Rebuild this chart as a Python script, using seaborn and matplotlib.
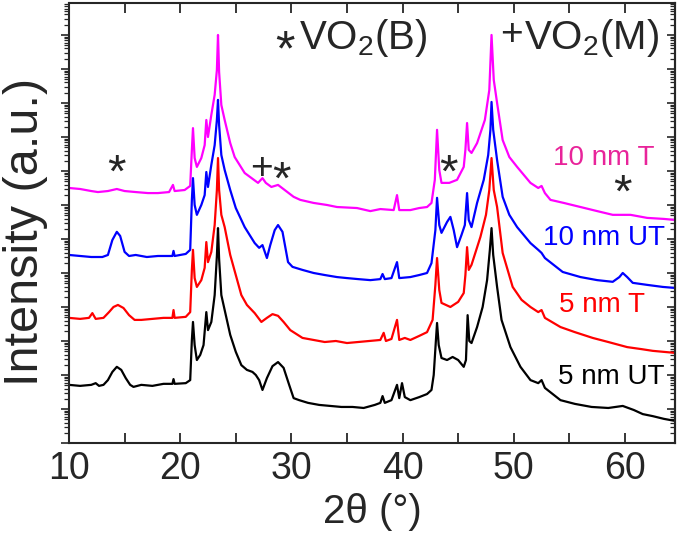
import numpy as np
import pandas as pd
import matplotlib
matplotlib.use("Agg")
import matplotlib.pyplot as plt
from matplotlib.ticker import MultipleLocator, LogLocator, NullFormatter
import seaborn as sns

# 2theta positions and log10(intensity), one pair of lists per sample
bk_x = [10.0, 11.0, 12.0, 12.4, 12.7, 13.1, 13.5, 13.9, 14.3, 14.7, 15.1, 15.5, 15.8, 16.5, 17.5, 18.5,
        19.3, 19.4, 19.5, 20.5, 20.9, 21.05, 21.15, 21.3, 21.5, 21.8, 22.1, 22.35, 22.5, 22.8, 23.1, 23.3,
        23.4, 23.5, 23.7, 24.0, 24.5, 25.0, 25.5, 26.0, 26.5, 26.8, 27.1, 27.4, 27.8, 28.3, 28.8, 29.3,
        29.8, 30.2, 30.7, 31.5, 32.5, 33.5, 34.5, 35.5, 36.5, 37.5, 38.0, 38.2, 38.4, 39.0, 39.5, 39.7,
        39.95, 40.2, 40.7, 41.5, 42.2, 42.6, 42.8, 43.0, 43.1, 43.25, 43.5, 44.0, 44.5, 45.0, 45.5, 45.7,
        45.85, 46.0, 46.2, 46.7, 47.2, 47.6, 47.85, 48.0, 48.15, 48.5, 48.9, 49.7, 50.6, 51.5, 52.2, 52.5,
        52.8, 54.2, 55.5, 57.0, 58.5, 59.8, 60.8, 61.6, 62.5, 63.5, 64.5]
bk_y = [1.71, 1.68, 1.71, 1.76, 1.68, 1.71, 1.85, 2.09, 2.24, 2.15, 1.91, 1.71, 1.65, 1.71, 1.68, 1.74,
        1.74, 1.88, 1.74, 1.76, 1.85, 3.03, 3.56, 2.88, 2.44, 2.59, 2.88, 3.85, 3.32, 3.56, 4.35, 5.5,
        6.32, 5.41, 4.35, 3.91, 3.18, 2.68, 2.29, 2.15, 2.09, 2.0, 1.85, 1.56, 1.91, 2.26, 2.38, 2.21,
        1.71, 1.32, 1.26, 1.18, 1.12, 1.09, 1.06, 1.06, 1.03, 1.12, 1.18, 1.38, 1.18, 1.26, 1.71, 1.32,
        1.76, 1.35, 1.26, 1.35, 1.44, 1.56, 2.0, 3.03, 3.53, 2.88, 2.5, 2.44, 2.53, 2.44, 2.24, 2.44,
        3.76, 3.0, 2.94, 3.41, 4.0, 4.79, 5.68, 6.32, 5.53, 4.59, 3.62, 2.82, 2.24, 1.85, 1.76, 1.85,
        1.62, 1.26, 1.15, 1.06, 1.03, 1.09, 0.97, 0.85, 0.79, 0.71, 0.65]

rd_x = [10.0, 11.0, 11.8, 12.1, 12.4, 13.1, 13.6, 14.0, 14.4, 14.9, 15.4, 15.9, 16.5, 17.5, 18.5, 19.3,
        19.4, 19.5, 20.5, 20.9, 21.05, 21.15, 21.3, 21.5, 21.9, 22.2, 22.35, 22.5, 22.8, 23.1, 23.3, 23.4,
        23.5, 23.7, 24.0, 24.5, 25.0, 25.5, 26.0, 26.7, 27.3, 27.8, 28.3, 28.8, 29.3, 29.9, 31.0, 32.0,
        33.0, 34.0, 35.0, 36.0, 37.0, 38.0, 38.3, 38.5, 39.0, 39.5, 39.7, 40.2, 40.7, 41.5, 42.2, 42.7,
        42.95, 43.1, 43.3, 43.5, 44.3, 45.0, 45.5, 45.65, 45.8, 45.95, 46.2, 47.0, 47.5, 47.8, 48.0, 48.2,
        48.5, 49.0, 49.9, 50.7, 51.5, 52.2, 52.5, 52.8, 54.2, 55.5, 57.1, 58.5, 60.2, 61.5, 62.5, 63.5, 64.5]
rd_y = [3.68, 3.65, 3.68, 3.82, 3.65, 3.68, 3.85, 4.0, 4.06, 3.97, 3.76, 3.62, 3.62, 3.65, 3.68, 3.68,
        3.91, 3.68, 3.71, 3.85, 5.09, 5.68, 4.85, 4.59, 4.79, 5.15, 5.91, 5.32, 5.62, 6.41, 7.44, 8.38,
        7.44, 6.71, 6.35, 5.53, 4.94, 4.35, 4.06, 3.82, 3.56, 3.68, 3.79, 3.74, 3.56, 3.32, 3.09, 3.03,
        2.97, 3.0, 2.94, 2.97, 3.0, 3.03, 3.24, 3.0, 3.06, 3.62, 3.03, 3.09, 3.03, 3.15, 3.26, 3.62,
        4.65, 5.44, 4.5, 4.12, 4.0, 4.15, 4.41, 4.94, 5.76, 5.09, 5.24, 6.06, 6.71, 7.44, 8.38, 7.44,
        6.94, 5.59, 4.59, 4.21, 4.0, 3.85, 3.91, 3.68, 3.41, 3.26, 3.09, 2.97, 2.82, 2.76, 2.71, 2.68, 2.65]

bl_x = [10.0, 11.0, 12.0, 13.0, 13.5, 13.9, 14.3, 14.6, 15.0, 15.4, 16.0, 17.0, 18.0, 19.3, 19.4, 19.5,
        20.5, 20.9, 21.05, 21.15, 21.3, 21.5, 21.9, 22.2, 22.35, 22.5, 22.8, 23.1, 23.3, 23.4, 23.5, 23.7,
        24.0, 24.5, 25.0, 25.8, 26.7, 27.1, 27.4, 27.8, 28.1, 28.5, 28.8, 29.2, 29.7, 30.1, 31.0, 32.0,
        33.0, 34.1, 35.0, 36.0, 37.1, 38.0, 38.2, 38.4, 39.0, 39.5, 39.7, 40.7, 41.5, 42.2, 42.6, 42.95,
        43.1, 43.3, 43.5, 44.0, 44.3, 44.6, 44.9, 45.3, 45.6, 45.8, 45.95, 46.2, 46.7, 47.3, 47.7, 47.9,
        48.0, 48.15, 48.5, 49.0, 49.6, 50.3, 51.5, 52.2, 52.5, 52.8, 54.4, 56.0, 57.5, 58.9, 59.5, 59.8,
        60.2, 60.7, 62.0, 63.4, 64.5]
bl_y = [5.53, 5.5, 5.47, 5.47, 5.53, 5.97, 6.21, 6.09, 5.62, 5.5, 5.53, 5.47, 5.5, 5.5, 5.65, 5.5,
        5.56, 5.68, 7.15, 7.79, 7.0, 6.71, 7.0, 7.29, 7.97, 7.53, 8.18, 8.76, 9.5, 10.09, 9.35, 8.47,
        8.03, 7.44, 6.91, 6.35, 5.88, 5.74, 5.82, 5.44, 5.82, 6.26, 6.41, 6.21, 5.32, 5.18, 5.09, 5.0,
        4.94, 4.88, 4.85, 4.82, 4.79, 4.82, 4.97, 4.82, 4.85, 5.32, 4.85, 4.88, 4.94, 5.0, 5.29, 6.26,
        7.21, 6.41, 6.18, 6.5, 6.65, 6.26, 5.76, 6.12, 6.41, 7.35, 6.56, 6.35, 7.06, 7.74, 8.47, 9.21,
        10.03, 9.21, 8.32, 7.24, 6.71, 6.35, 5.88, 5.68, 5.59, 5.44, 5.03, 4.88, 4.79, 4.74, 4.88, 5.0,
        4.88, 4.71, 4.65, 4.59, 4.56]

mg_x = [10.0, 11.0, 12.0, 12.6, 13.5, 14.3, 15.0, 16.0, 17.1, 18.0, 19.0, 19.35, 19.5, 20.4, 20.9, 21.05,
        21.15, 21.3, 21.5, 21.9, 22.2, 22.35, 22.5, 22.8, 23.1, 23.3, 23.4, 23.5, 23.7, 24.0, 24.5, 24.9,
        25.8, 27.0, 27.4, 27.7, 28.2, 28.8, 29.4, 30.2, 30.8, 32.0, 33.2, 34.1, 35.9, 37.1, 38.0, 39.2,
        39.5, 39.7, 40.7, 41.5, 42.2, 42.6, 42.9, 43.1, 43.3, 43.5, 44.2, 44.9, 45.5, 45.65, 45.8, 45.95,
        46.2, 46.7, 47.4, 47.8, 48.0, 48.2, 48.5, 49.0, 49.6, 50.3, 51.5, 52.2, 52.5, 52.8, 53.3, 54.5,
        56.0, 57.5, 58.9, 60.5, 62.0, 63.5, 64.5]
mg_y = [7.5, 7.47, 7.41, 7.38, 7.41, 7.47, 7.41, 7.38, 7.35, 7.35, 7.38, 7.59, 7.41, 7.44, 7.56, 8.62,
        9.26, 8.38, 8.12, 8.38, 8.76, 9.5, 9.0, 9.65, 10.24, 10.97, 12.0, 10.91, 9.94, 9.5, 8.82, 8.41,
        7.94, 7.65, 7.79, 7.65, 7.53, 7.59, 7.44, 7.24, 7.15, 7.06, 7.0, 6.94, 6.91, 6.82, 6.88, 6.85,
        7.29, 6.85, 6.85, 6.91, 6.94, 7.06, 7.74, 9.21, 8.03, 7.65, 7.65, 7.74, 8.12, 8.62, 9.41, 8.62,
        8.53, 8.82, 9.5, 10.38, 12.0, 10.68, 10.0, 8.91, 8.41, 8.12, 7.65, 7.5, 7.56, 7.35, 7.15, 7.06,
        6.94, 6.82, 6.71, 6.71, 6.62, 6.59, 6.56]

samples = ["10 nm T", "10 nm UT", "5 nm T", "5 nm UT"]
line_colors = ["#ff00ff", "#0000ff", "#ff0000", "#000000"]
label_colors = ["#e8249a", "#0000ff", "#ff0000", "#000000"]

frames = []
for name, xs, ys in zip(samples, [mg_x, bl_x, rd_x, bk_x], [mg_y, bl_y, rd_y, bk_y]):
    frames.append(pd.DataFrame({"two_theta": xs, "intensity": 10 ** np.array(ys), "sample": name}))
df = pd.concat(frames, ignore_index=True)

sns.set_style("ticks")
plt.rcParams["font.family"] = ["Liberation Sans", "DejaVu Sans"]
plt.rcParams["mathtext.default"] = "regular"

fig = plt.figure(figsize=(6.85, 5.53), dpi=100)
ax = fig.add_axes([69 / 685, 110 / 553, 606 / 685, 440 / 553])

for name, col in zip(samples, line_colors):
    sns.lineplot(data=df[df["sample"] == name], x="two_theta", y="intensity",
                 color=col, lw=1.6, ax=ax, legend=False)

ax.set_yscale("log")
ax.set_xlim(10, 64.5)
ax.set_ylim(1, 10 ** 12.94)

ax.xaxis.set_major_locator(MultipleLocator(10))
ax.xaxis.set_minor_locator(MultipleLocator(5))
ax.yaxis.set_major_locator(LogLocator(base=10, numticks=30))
ax.yaxis.set_minor_locator(LogLocator(base=10, subs=np.arange(2, 10), numticks=30))
ax.yaxis.set_major_formatter(NullFormatter())
ax.yaxis.set_minor_formatter(NullFormatter())

ax.tick_params(axis="x", which="both", direction="in", top=True, length=7, width=1.3,
               labelsize=27, pad=6)
ax.tick_params(axis="y", which="major", direction="out", left=True, right=False, length=6, width=1.2)
ax.tick_params(axis="y", which="minor", direction="out", left=True, right=False, length=3.5, width=0.9)
for s in ax.spines.values():
    s.set_linewidth(1.5)

# inward ticks on the right side
ax_r = ax.secondary_yaxis("right")
ax_r.yaxis.set_major_locator(LogLocator(base=10, numticks=30))
ax_r.yaxis.set_minor_locator(LogLocator(base=10, subs=np.arange(2, 10), numticks=30))
ax_r.yaxis.set_major_formatter(NullFormatter())
ax_r.yaxis.set_minor_formatter(NullFormatter())
ax_r.tick_params(which="major", direction="in", length=6, width=1.2)
ax_r.tick_params(which="minor", direction="in", length=3.5, width=0.9)
ax_r.spines["right"].set_linewidth(1.5)

ax.set_xlabel("2θ (°)", fontsize=29, labelpad=4)
ax.set_ylabel("Intensity (a.u.)", fontsize=35)
ax.yaxis.set_label_coords(-0.035, 0.48)

# sample labels
label_pos = [(62.7, 8.38), (63.6, 6.03), (61.8, 4.06), (63.6, 1.94)]
for name, col, (lx, ly) in zip(samples, label_colors, label_pos):
    ax.text(lx, 10 ** ly, name, color=col, fontsize=20, ha="right", va="center")

# phase markers
marks = [("*", 14.3, 7.9), ("+", 27.3, 8.05), ("*", 29.1, 7.67), ("*", 44.1, 7.9), ("*", 59.8, 7.3)]
for m, mx, my in marks:
    ax.text(mx, 10 ** my, m, fontsize=34 if m == "*" else 28, ha="center", va="center")

ax.text(29.4, 10 ** 11.5, "*", fontsize=36, ha="center", va="center")
ax.text(30.7, 10 ** 11.9, "VO$_2$(B)", fontsize=29, ha="left", va="center")
ax.text(49.8, 10 ** 12.0, "+", fontsize=28, ha="center", va="center")
ax.text(50.9, 10 ** 11.9, "VO$_2$(M)", fontsize=29, ha="left", va="center")

fig.savefig("out.png", dpi=100)
